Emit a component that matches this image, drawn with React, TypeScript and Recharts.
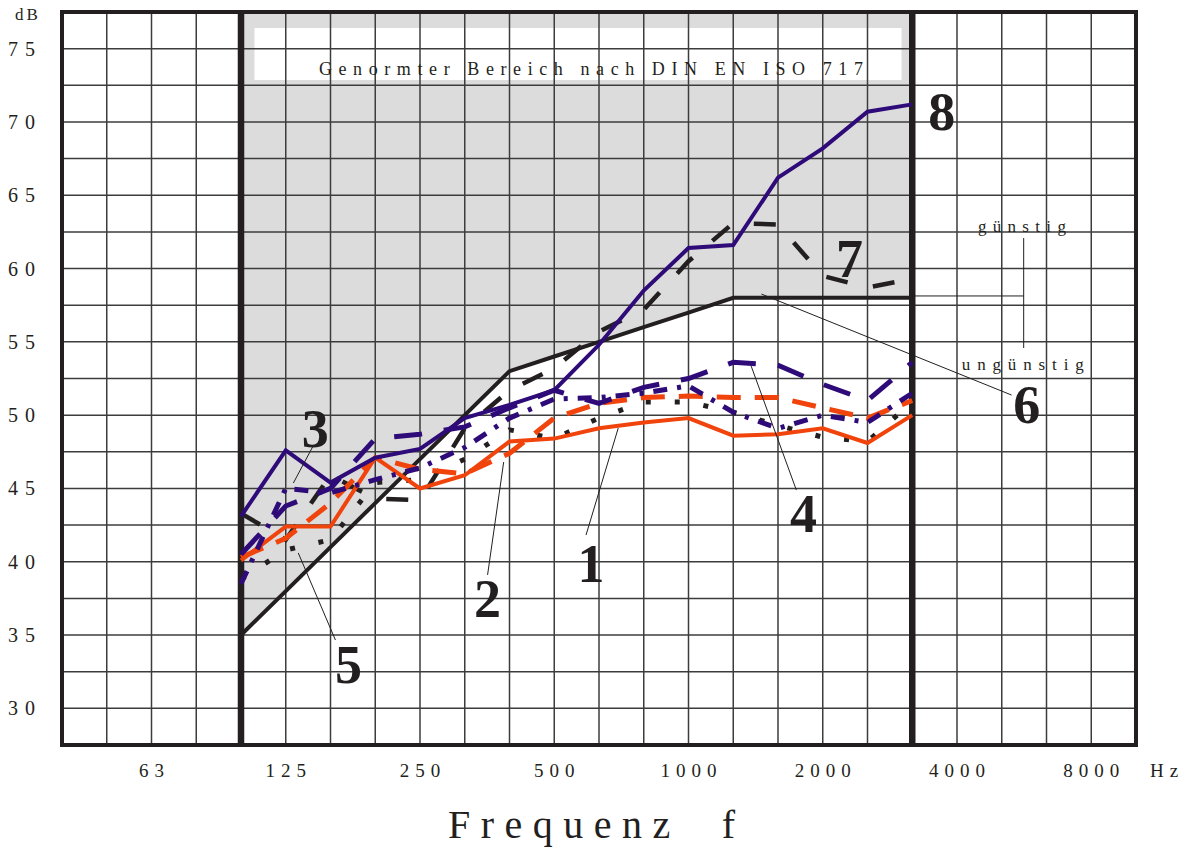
import React from 'react';
import {
  ComposedChart, Line, Area, XAxis, YAxis, CartesianGrid,
  ReferenceArea, ReferenceLine, ReferenceDot,
} from 'recharts';

// third-octave band index on the x axis: 0 = 40 Hz ... 24 = 10 kHz
const bandIndex = [4, 5, 6, 7, 8, 9, 10, 11, 12, 13, 14, 15, 16, 17, 18, 19];
const bandFreqs = [100, 125, 160, 200, 250, 315, 400, 500, 630, 800, 1000, 1250, 1600, 2000, 2500, 3150];

const curve1 = [40.1, 42.4, 42.4, 47.1, 45.0, 45.9, 48.2, 48.4, 49.1, 49.5, 49.8, 48.6, 48.7, 49.1, 48.1, 50.0];
const curve2 = [40.3, 41.6, 44.0, 47.1, 46.3, 46.0, 47.4, 49.8, 50.8, 51.2, 51.3, 51.2, 51.2, 50.5, 49.8, 51.0];
const curve3 = [38.5, 45.0, 44.7, 45.6, 46.4, 47.8, 49.8, 51.1, 51.2, 51.5, 52.0, 50.2, 49.1, 50.0, 49.5, 51.5];
const curve4 = [40.5, 43.8, 45.0, 48.4, 48.7, 49.2, 50.5, 51.7, 50.8, 51.9, 52.5, 53.6, 53.4, 52.1, 51.0, 53.6];
const curve5 = [38.8, 40.8, 41.5, 45.4, 45.6, 47.0, 49.0, 48.4, 49.8, 50.9, 50.9, 50.2, 49.3, 48.5, 48.2, 50.9];
const curve6 = [35, 38, 41, 44, 47, 50, 53, 54, 55, 56, 57, 58, 58, 58, 58, 58];
const curve7 = [43.3, 41.5, 45.9, 44.3, 44.2, 49.1, 51.7, 53.2, 55.7, 57.2, 60.5, 63.1, 63.0, 59.5, 58.7, 59.3];
const curve8 = [43.1, 47.6, 45.4, 47.1, 47.7, 49.8, 50.7, 51.7, 54.8, 58.5, 61.4, 61.6, 66.2, 68.2, 70.7, 71.2];

const xTicks = [0, 1, 2, 3, 4, 5, 6, 7, 8, 9, 10, 11, 12, 13, 14, 15, 16, 17, 18, 19, 20, 21, 22, 23, 24];
const xLabelIndex = [2, 5, 8, 11, 14, 17, 20, 23];
const xLabels = ['63', '125', '250', '500', '1000', '2000', '4000', '8000'];
const yTicks = [27.5, 30, 32.5, 35, 37.5, 40, 42.5, 45, 47.5, 50, 52.5, 55, 57.5, 60, 62.5, 65, 67.5, 70, 72.5, 75, 77.5];
const yLabels = [30, 35, 40, 45, 50, 55, 60, 65, 70, 75];

const Y_MIN = 27.5;
const Y_MAX = 77.5;

const data = bandIndex.map((x, i) => ({
  x,
  freq: bandFreqs[i],
  c1: curve1[i], c2: curve2[i], c3: curve3[i], c4: curve4[i],
  c5: curve5[i], c6: curve6[i], c7: curve7[i], c8: curve8[i],
  zone: [curve6[i], Y_MAX],
}));

const INK = '#231f20';
const RED = '#f0440c';
const PURPLE = '#2e0b78';
const SERIF = '"Liberation Serif", "Times New Roman", serif';

// annotation labels (big numbers) in data coordinates
const numLabels = [
  { t: '3', x: 5.66, y: 49.1 },
  { t: '5', x: 6.40, y: 33.0 },
  { t: '2', x: 9.51, y: 37.5 },
  { t: '1', x: 11.82, y: 39.9 },
  { t: '4', x: 16.57, y: 43.3 },
  { t: '6', x: 21.56, y: 50.7 },
  { t: '7', x: 17.60, y: 60.7 },
  { t: '8', x: 19.66, y: 70.7 },
];

const leaders = [
  [[5.60, 47.83], [5.17, 45.37]],
  [[5.28, 40.60], [6.11, 34.66]],
  [[9.87, 46.80], [9.51, 39.10]],
  [[12.43, 49.12], [11.71, 41.82]],
  [[15.40, 53.35], [16.41, 44.89]],
  [[15.63, 58.26], [21.22, 51.37]],
  [[19.0, 58.13], [21.49, 58.13]],
  [[21.49, 62.08], [21.49, 54.58]],
];

const XTick = (p: any) => {
  const idx = xLabelIndex.indexOf(p.payload.value);
  if (idx < 0) return <g />;
  return (
    <text x={p.x + 3} y={777} textAnchor="middle" fontFamily={SERIF} fontSize={19}
      letterSpacing={6} fill={INK}>{xLabels[idx]}</text>
  );
};

const YTick = (p: any) => {
  if (yLabels.indexOf(p.payload.value) < 0) return <g />;
  return (
    <text x={8} y={p.y} dy={7} textAnchor="start" fontFamily={SERIF} fontSize={20}
      letterSpacing={7} fill={INK}>{String(p.payload.value)}</text>
  );
};

const textShape = (t: string, size: number, bold: boolean, extra: any = {}) => (p: any) => (
  <text x={p.cx} y={p.cy} dy={size * 0.34} textAnchor="middle" fontFamily={SERIF}
    fontSize={size} fontWeight={bold ? 'bold' : 'normal'} fill={INK} {...extra}>{t}</text>
);

export default function App() {
  return (
    <div style={{ position: 'absolute', left: 0, top: 0, width: 1188, height: 848, background: '#fff' }}>
      <ComposedChart width={1188} height={848} data={data}
        margin={{ top: 12, right: 52, bottom: 0, left: 0 }}>
        <XAxis dataKey="x" type="number" domain={[0, 24]} ticks={xTicks} interval={0}
          axisLine={false} tickLine={false} height={103} tick={<XTick />} allowDataOverflow />
        <YAxis type="number" domain={[Y_MIN, Y_MAX]} ticks={yTicks} interval={0}
          axisLine={false} tickLine={false} width={62} tick={<YTick />} allowDataOverflow />

        <Area dataKey="zone" type="linear" stroke="none" fill="#dcdcdc" fillOpacity={1}
          isAnimationActive={false} dot={false} activeDot={false} zIndex={10} />
        <ReferenceArea x1={4.3} x2={18.76} y1={72.86} y2={76.41} fill="#ffffff" fillOpacity={1}
          stroke="none" zIndex={20} />

        <CartesianGrid stroke="#3c3c3c" strokeWidth={1.5} zIndex={30} />

        <ReferenceLine x={4} stroke={INK} strokeWidth={6.5} zIndex={40} />
        <ReferenceLine x={19} stroke={INK} strokeWidth={6.5} zIndex={40} />

        <ReferenceDot x={11.82} y={73.2} r={1} zIndex={45}
          shape={(p: any) => (
            <text x={p.cx} y={p.cy} textAnchor="middle" fontFamily={SERIF} fontSize={18}
              fill={INK} textLength={544} lengthAdjust="spacing">Genormter Bereich nach DIN EN ISO 717</text>
          )} />

        <Line dataKey="c6" type="linear" stroke={INK} strokeWidth={4} dot={false} activeDot={false} isAnimationActive={false} />
        <Line dataKey="c5" type="linear" stroke={INK} strokeWidth={5} strokeDasharray="5 24" dot={false} activeDot={false} isAnimationActive={false} />
        <Line dataKey="c7" type="linear" stroke={INK} strokeWidth={4.5} strokeDasharray="22 26" dot={false} activeDot={false} isAnimationActive={false} />
        <Line dataKey="c1" type="linear" stroke={RED} strokeWidth={4} dot={false} activeDot={false} isAnimationActive={false} />
        <Line dataKey="c2" type="linear" stroke={RED} strokeWidth={5} strokeDasharray="24 14" dot={false} activeDot={false} isAnimationActive={false} />
        <Line dataKey="c3" type="linear" stroke={PURPLE} strokeWidth={5} strokeDasharray="14 10 4 10" dot={false} activeDot={false} isAnimationActive={false} />
        <Line dataKey="c4" type="linear" stroke={PURPLE} strokeWidth={5} strokeDasharray="28 22" dot={false} activeDot={false} isAnimationActive={false} />
        <Line dataKey="c8" type="linear" stroke={PURPLE} strokeWidth={4} dot={false} activeDot={false} isAnimationActive={false} />

        {leaders.map((s, i) => (
          <ReferenceLine key={'l' + i} segment={[{ x: s[0][0], y: s[0][1] }, { x: s[1][0], y: s[1][1] }]}
            stroke={INK} strokeWidth={1} zIndex={1500} />
        ))}

        <ReferenceArea x1={0} x2={24} y1={Y_MIN} y2={Y_MAX} fill="none" stroke={INK} strokeWidth={4}
          ifOverflow="visible" zIndex={1600} />

        {numLabels.map((l) => (
          <ReferenceDot key={'n' + l.t} x={l.x} y={l.y} r={1} zIndex={2000}
            shape={textShape(l.t, 54, true)} />
        ))}
        <ReferenceDot x={21.45} y={62.5} r={1} zIndex={2000}
          shape={(p: any) => (
            <text x={p.cx} y={p.cy} textAnchor="middle" fontFamily={SERIF} fontSize={17} fill={INK}
              textLength={88} lengthAdjust="spacing">günstig</text>
          )} />
        <ReferenceDot x={21.47} y={53.1} r={1} zIndex={2000}
          shape={(p: any) => (
            <text x={p.cx} y={p.cy} textAnchor="middle" fontFamily={SERIF} fontSize={17} fill={INK}
              textLength={122} lengthAdjust="spacing">ungünstig</text>
          )} />
      </ComposedChart>
      <svg width={1188} height={848} style={{ position: 'absolute', left: 0, top: 0, pointerEvents: 'none' }}>
        <text x={15} y={20} fontFamily={SERIF} fontSize={17} letterSpacing={3} fill={INK}>dB</text>
        <text x={1150} y={777} fontFamily={SERIF} fontSize={19} letterSpacing={6} fill={INK}>Hz</text>
        <text x={448} y={838} fontFamily={SERIF} fontSize={40} fill={INK} textLength={287}
          lengthAdjust="spacing">{'Frequenz\u00a0\u00a0f'}</text>
      </svg>
    </div>
  );
}
